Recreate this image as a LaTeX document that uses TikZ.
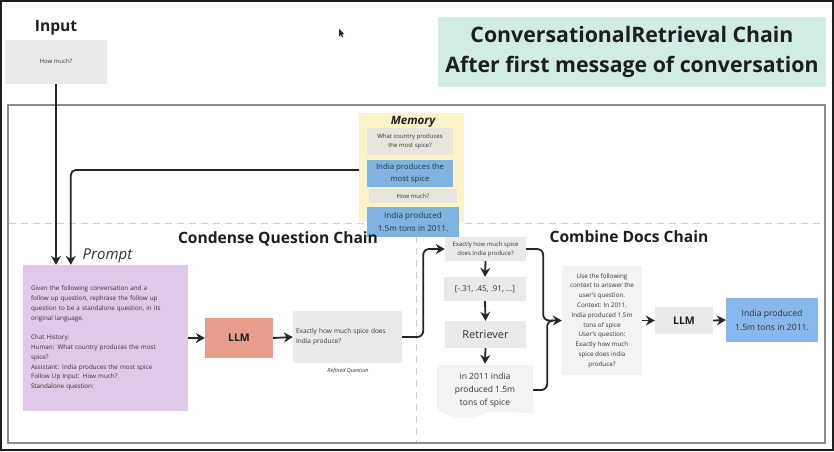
\documentclass[tikz,border=0pt]{standalone}
\usepackage{fontspec}
\setmainfont{Open Sans}
\usetikzlibrary{arrows.meta,calc}
\definecolor{txt}{HTML}{333333}
\definecolor{dark}{HTML}{1E1E1E}
\definecolor{arrc}{HTML}{262626}
\definecolor{boxg}{HTML}{EAEAEA}
\definecolor{ctxg}{HTML}{F3F3F3}
\definecolor{docg}{HTML}{F4F4F4}
\definecolor{teal}{HTML}{D3EBE5}
\definecolor{memy}{HTML}{FBF2C8}
\definecolor{memg}{HTML}{E7E5DD}
\definecolor{memb}{HTML}{7FB3E2}
\definecolor{ansb}{HTML}{86B8EE}
\definecolor{purp}{HTML}{E0C8E8}
\definecolor{salm}{HTML}{E89C8A}
\definecolor{dashc}{HTML}{CFCFCF}
\definecolor{panelc}{HTML}{8C8C8C}
\begin{document}
\begin{tikzpicture}[x=1pt,y=-1pt,
  bx/.style={inner sep=0pt, align=center, text=txt},
  arr/.style={line width=1.8pt, draw=arrc, -{Stealth[length=9pt,width=10pt,inset=3pt]}},
  ln/.style={line width=1.8pt, draw=arrc},
  heading/.style={inner sep=0pt, text=dark, font=\fontsize{15.6}{18}\selectfont\bfseries},
  dsh/.style={draw=dashc, line width=1pt, dash pattern=on 7pt off 5pt}
]
\useasboundingbox (0,0) rectangle (834,451);
% window frame
\draw[dark, line width=1.6pt] (0.8,0.8) rectangle (833.2,450.2);
% panel
\draw[panelc, line width=1.8pt] (8,105) rectangle (825,443);
% dashed separators
\draw[dsh] (9,223) -- (824,223);
\draw[dsh] (416,224) -- (416,442);
% cursor
\fill[dark] (339,29) -- (339,36.5) -- (340.8,34.8) -- (342.3,37.5) -- (343.2,37) -- (341.8,34.3) -- (344.2,34.2) -- cycle;

% Input
\node[heading] (inT) at (56,28) {Input};
\node[bx, fill=boxg, minimum width=102pt, minimum height=44pt, font=\fontsize{6}{8}\selectfont] (inB) at (56,61.5) {How much?};

% title
\node[bx, fill=teal, text=dark, minimum width=388pt, minimum height=70pt, font=\fontsize{21.3}{30}\selectfont\bfseries] (title) at (632,52) {ConversationalRetrieval Chain\\After first message of conversation};

% Memory
\node[fill=memy, minimum width=105pt, minimum height=109pt, inner sep=0pt] (mem) at (411.5,167.5) {};
\node[bx, text=dark, font=\fontsize{11.5}{12}\selectfont\bfseries\itshape] (memT) at (413,122) {Memory};
\node[bx, fill=memg, minimum width=86pt, minimum height=27pt, font=\fontsize{6}{9.5}\selectfont] (mq1) at (410,141.5) {What country produces\\the most spice?};
\node[bx, fill=memb, minimum width=86pt, minimum height=27pt, font=\fontsize{7.8}{12}\selectfont] (ma1) at (410,173.5) {India produces the\\most spice};
\node[bx, fill=memg, minimum width=88pt, minimum height=14pt, font=\fontsize{6}{8}\selectfont] (mq2) at (413,196) {How much?};
\node[bx, fill=memb, minimum width=92pt, minimum height=30pt, font=\fontsize{8.2}{13}\selectfont] (ma2) at (413,221.5) {India produced\\1.5m tons in 2011.};
\coordinate (mL) at (359,170);

% Condense question chain
\node[heading] (condT) at (278,239) {Condense Question Chain};
\node[inner sep=0pt, text=txt, font=\fontsize{15}{18}\selectfont\itshape] (promptL) at (107.5,256) {Prompt};
\node[fill=purp, minimum width=165pt, minimum height=146pt, inner xsep=8pt, inner ysep=0pt, text width=149pt, align=left, text=txt, font=\fontsize{6.3}{9.8}\selectfont] (prompt) at (105.5,338) {Given the following conversation and a\\follow up question, rephrase the follow up\\question to be a standalone question, in its\\original language.\\[9.8pt]Chat History:\\Human: What country produces the most\\spice?\\Assistant: India produces the most spice\\Follow Up Input: How much?\\Standalone question:};
\node[bx, fill=salm, text=dark, minimum width=68pt, minimum height=40pt, font=\fontsize{10.5}{12}\selectfont\bfseries] (llm1) at (239,338) {LLM};
\node[fill=boxg, minimum width=109pt, minimum height=52pt, inner xsep=3pt, inner ysep=0pt, text width=103pt, align=left, text=txt, font=\fontsize{6.5}{10}\selectfont] (ref) at (347.5,337) {Exactly how much spice does\\India produce?};
\node[bx, font=\fontsize{5.5}{7}\selectfont\itshape] (refcap) at (348,371) {Refined Question};

% retrieval column
\node[bx, fill=boxg, minimum width=81pt, minimum height=24pt, font=\fontsize{6}{9}\selectfont] (q2) at (485.5,249) {Exactly how much spice\\does India produce?};
\node[bx, fill=boxg, minimum width=82pt, minimum height=24pt, font=\fontsize{8}{10}\selectfont] (emb) at (485,289) {[-.31, .45, .91, ...]};
\node[bx, fill=boxg, minimum width=81pt, minimum height=27pt, font=\fontsize{11}{13}\selectfont] (retr) at (485.5,334.5) {Retriever};
\fill[docg, rounded corners=3pt] (437,410) -- (437,365) -- (533,365) -- (533,413);
\fill[docg] (437,365) rectangle (533,410);
\fill[docg] (437,409) .. controls (452,420) and (470,421) .. (487,412) .. controls (502,404) and (520,405) .. (533,413) -- (533,405) -- (437,405) -- cycle;
\node[bx, minimum width=96pt, minimum height=52pt, font=\fontsize{8.5}{13}\selectfont] (doc) at (485,390) {in 2011 india\\produced 1.5m\\tons of spice};

% combine docs chain
\node[heading] (combT) at (629,237) {Combine Docs Chain};
\node[bx, fill=ctxg, minimum width=80pt, minimum height=109pt, font=\fontsize{6.3}{9.8}\selectfont] (ctx) at (602,320.5) {Use the following\\context to answer the\\user's question.\\Context: In 2011,\\India produced 1.5m\\tons of spice\\User's question:\\Exactly how much\\spice does india\\produce?};
\node[bx, fill=boxg, text=dark, minimum width=58pt, minimum height=27pt, font=\fontsize{10.5}{12}\selectfont\bfseries] (llm2) at (684,320.5) {LLM};
\node[bx, fill=ansb, minimum width=92pt, minimum height=44pt, font=\fontsize{8.6}{14}\selectfont] (ans) at (772,320) {India produced\\1.5m tons in 2011.};

% connectors
\draw[arr] (inB.south) -- (inB.south |- prompt.north);
\draw[arr, rounded corners=5pt] (mL) -| ($(prompt.north west)+(48,0)$);
\draw[arr] (prompt.east) -- (llm1.west);
\draw[arr] (llm1.east) -- (ref.west);
\draw[arr, rounded corners=6pt] (ref.east) -- ++(21,0) |- (q2.west);
\draw[arr] (q2.south) -- (emb.north);
\draw[arr] (emb.south) -- (retr.north);
\draw[arr] (retr.south) -- (doc.north);
\draw[arr, rounded corners=6pt] (q2.east) -- ++(17,0) |- (ctx.west);
\draw[ln, rounded corners=6pt] (doc.east) -- ++(14,0) |- ($(ctx.west)+(-8,0)$);
\draw[arr] (ctx.east) -- (llm2.west);
\draw[arr] (llm2.east) -- (ans.west);
\end{tikzpicture}
\end{document}
